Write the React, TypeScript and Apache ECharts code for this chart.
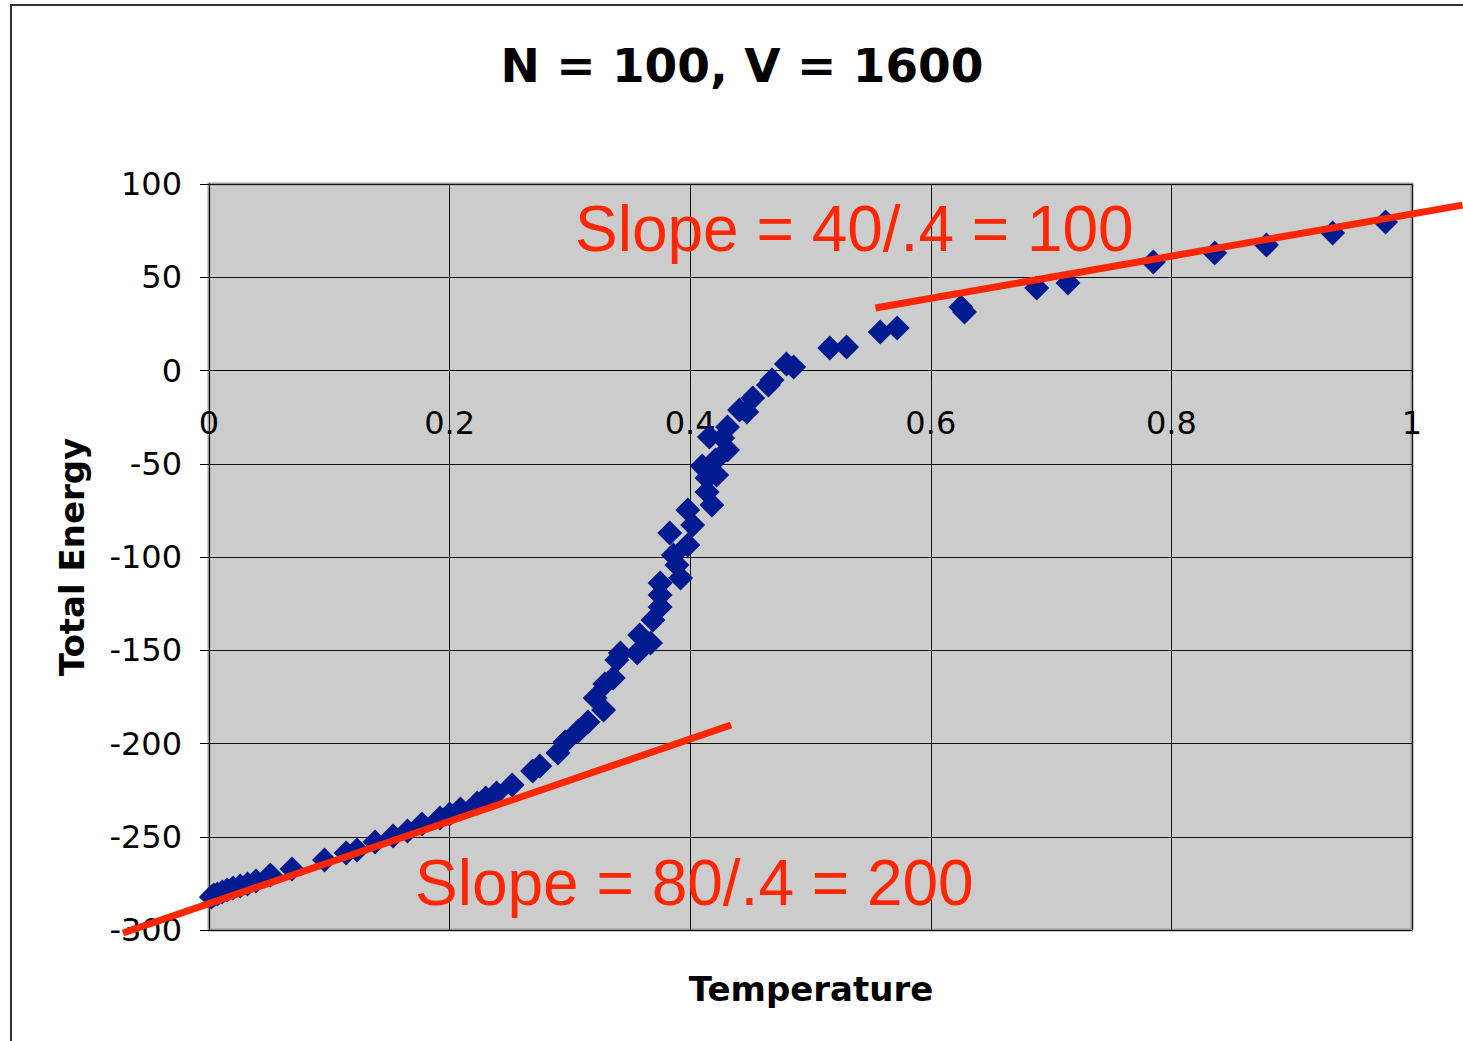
import React, { useEffect, useRef } from "react";
import * as echarts from "echarts";

const titleText = "N = 100, V = 1600";
const xAxisName = "Temperature";
const yAxisName = "Total Energy";

const temperature = [
  0.002, 0.004, 0.007, 0.011, 0.015, 0.020, 0.026, 0.032, 0.039, 0.051,
  0.069, 0.096, 0.114, 0.123, 0.138, 0.153, 0.165, 0.177, 0.192, 0.200,
  0.209, 0.223, 0.230, 0.239, 0.252, 0.269, 0.275, 0.290, 0.296, 0.307,
  0.315, 0.321, 0.328, 0.329, 0.336, 0.339, 0.342, 0.356, 0.358, 0.367,
  0.369, 0.375, 0.375, 0.375, 0.392, 0.389, 0.386, 0.398, 0.383, 0.402,
  0.398, 0.418, 0.414, 0.414, 0.422, 0.410, 0.421, 0.431, 0.416, 0.427,
  0.431, 0.441, 0.447, 0.452, 0.465, 0.468, 0.480, 0.486, 0.516, 0.530,
  0.558, 0.572, 0.625, 0.628, 0.688, 0.714, 0.785, 0.836, 0.879, 0.934,
  0.978,
];

const totalEnergy = [
  -282.3, -281.2, -280.7, -279.6, -278.6, -277.5, -276.4, -275.3, -273.7, -270.5,
  -267.3, -262.5, -258.7, -257.1, -252.8, -249.6, -246.9, -243.2, -239.9, -237.8,
  -235.1, -231.9, -229.2, -226.5, -222.2, -214.7, -212.1, -205.1, -199.2, -193.3,
  -188.5, -175.6, -182.0, -168.1, -164.9, -155.2, -151.5, -151.5, -141.8, -146.1,
  -133.8, -126.8, -120.4, -113.9, -111.3, -104.3, -98.9, -93.6, -87.1, -82.8,
  -74.8, -72.1, -65.1, -57.6, -56.0, -51.2, -48.0, -42.6, -35.7, -36.2,
  -30.3, -21.2, -22.3, -14.7, -7.8, -5.1, 3.5, 1.9, 12.1, 12.6,
  20.6, 22.8, 34.0, 31.4, 44.2, 46.9, 58.2, 63.0, 67.3, 73.7,
  79.6,
];

// Hand-drawn slope lines (endpoints in data units; they run past the plot edges)
const lowFitT = [-0.0715, 0.434];
const lowFitE = [-301.6, -190.1];
const highFitT = [0.554, 1.042];
const highFitE = [33.5, 88.7];

const lowSlopeLabel = "Slope = 80/.4 = 200";
const highSlopeLabel = "Slope = 40/.4 = 100";

const RED = "#ff2600";
const NAVY = "#001a8f";

export default function App() {
  const ref = useRef<HTMLDivElement>(null);

  useEffect(() => {
    if (!ref.current) return;
    const chart = echarts.init(ref.current, undefined, { renderer: "svg" });
    const points = temperature.map((t, i) => [t, totalEnergy[i]]);

    const yMin = -300;
    const yMax = 100;
    const gridTop = 184;
    const gridBottom = 111;
    const gridH = 1041 - gridTop - gridBottom;
    // place the x axis line at E = 0
    const zeroOffset = -(gridH * (0 - yMin)) / (yMax - yMin);

    chart.setOption({
      animation: false,
      backgroundColor: "#ffffff",
      grid: {
        left: 209,
        top: gridTop,
        right: 51,
        bottom: gridBottom,
        show: true,
        backgroundColor: "#cccccc",
        borderColor: "#999999",
        borderWidth: 3,
      },
      xAxis: {
        type: "value",
        min: 0,
        max: 1,
        interval: 0.2,
        position: "bottom",
        offset: zeroOffset,
        axisLine: { show: true, onZero: false, lineStyle: { color: "#000", width: 1 } },
        axisTick: { show: true, length: 9, lineStyle: { color: "#000" } },
        axisLabel: {
          show: true,
          fontSize: 32,
          fontFamily: "DejaVu Sans",
          color: "#000",
          margin: 36,
          showMinLabel: true,
          showMaxLabel: true,
        },
        splitLine: { show: true, lineStyle: { color: "#111", width: 1 } },
      },
      yAxis: {
        type: "value",
        min: yMin,
        max: yMax,
        interval: 50,
        axisLine: { show: true, onZero: false, lineStyle: { color: "#000", width: 1 } },
        axisTick: { show: true, length: 9, lineStyle: { color: "#000" } },
        axisLabel: {
          fontSize: 32,
          fontFamily: "DejaVu Sans",
          color: "#000",
          margin: 27,
        },
        splitLine: { show: true, lineStyle: { color: "#111", width: 1 } },
      },
      series: [
        {
          type: "scatter",
          data: points,
          symbol: "diamond",
          symbolSize: 25,
          itemStyle: { color: NAVY, opacity: 1 },
          z: 3,
        },
      ],
    });

    const toPx = (t: number, e: number) =>
      chart.convertToPixel({ gridIndex: 0 }, [t, e]) as number[];
    const lowA = toPx(lowFitT[0], lowFitE[0]);
    const lowB = toPx(lowFitT[1], lowFitE[1]);
    const highA = toPx(highFitT[0], highFitE[0]);
    const highB = toPx(highFitT[1], highFitE[1]);

    chart.setOption({
      graphic: [
        {
          type: "polyline",
          shape: { points: [[11, 1041], [11, 5], [1463, 5]] },
          style: { stroke: "#333", lineWidth: 2, fill: "none" },
          silent: true,
        },
        {
          type: "line",
          z: 50,
          shape: { x1: lowA[0], y1: lowA[1], x2: lowB[0], y2: lowB[1] },
          style: { stroke: RED, lineWidth: 7 },
        },
        {
          type: "line",
          z: 50,
          shape: { x1: highA[0], y1: highA[1], x2: highB[0], y2: highB[1] },
          style: { stroke: RED, lineWidth: 7 },
        },
        {
          type: "text",
          x: 742,
          y: 65,
          style: {
            text: titleText,
            font: "bold 47px 'DejaVu Sans'",
            fill: "#000",
            align: "center",
            verticalAlign: "middle",
          },
        },
        {
          type: "text",
          x: 811,
          y: 989,
          style: {
            text: xAxisName,
            font: "bold 34px 'DejaVu Sans'",
            fill: "#000",
            align: "center",
            verticalAlign: "middle",
          },
        },
        {
          type: "text",
          x: 72,
          y: 557,
          rotation: Math.PI / 2,
          style: {
            text: yAxisName,
            font: "bold 34px 'DejaVu Sans'",
            fill: "#000",
            align: "center",
            verticalAlign: "middle",
          },
        },
        {
          type: "text",
          x: 575,
          y: 229,
          z: 60,
          style: {
            text: highSlopeLabel,
            font: "64px 'Liberation Sans'",
            fill: RED,
            align: "left",
            verticalAlign: "middle",
          },
        },
        {
          type: "text",
          x: 415,
          y: 883,
          z: 60,
          style: {
            text: lowSlopeLabel,
            font: "64px 'Liberation Sans'",
            fill: RED,
            align: "left",
            verticalAlign: "middle",
          },
        },
      ],
    });
    return () => chart.dispose();
  }, []);

  return (
    <div
      ref={ref}
      style={{ position: "fixed", left: 0, top: 0, width: 1463, height: 1041 }}
    />
  );
}
